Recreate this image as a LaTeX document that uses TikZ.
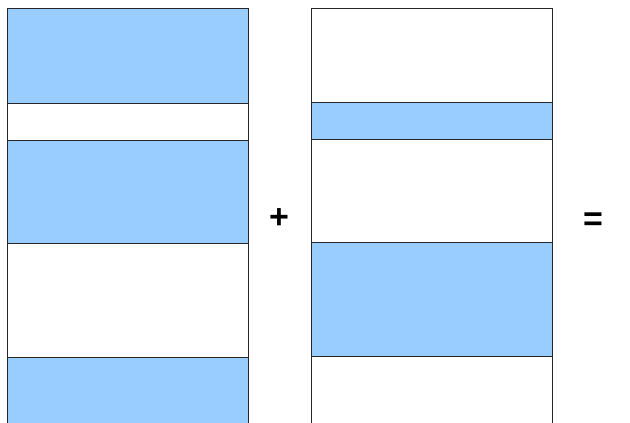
\documentclass[tikz,border=0pt]{standalone}
\usepackage{fontspec}
\setmainfont{Liberation Sans}
\definecolor{bandblue}{HTML}{99CCFF}
\tikzset{
  band/.style={draw=black!85,line width=0.9pt},
  opsign/.style={font=\bfseries\fontsize{34}{34}\selectfont,inner sep=0pt}
}
\begin{document}
\begin{tikzpicture}[x=1pt,y=-1pt]
  \useasboundingbox (0,0) rectangle (630,423);
  \clip (0,0) rectangle (630,423);
  % Columna izquierda
  \foreach \ya/\yb/\col in {8/103/bandblue, 103/140/white, 140/243/bandblue,
      243/357/white, 357/430/bandblue} {
    \draw[band,fill=\col] (7,\ya) rectangle (248,\yb);
  }
  % Columna derecha
  \foreach \ya/\yb/\col in {8/102/white, 102/139/bandblue, 139/242/white,
      242/356/bandblue, 356/430/white} {
    \draw[band,fill=\col] (311,\ya) rectangle (552,\yb);
  }
  % Signos
  \node[opsign] (plus) at (279,219) {+};
  \node[opsign] (equals) at (593,222) {=};
\end{tikzpicture}
\end{document}
